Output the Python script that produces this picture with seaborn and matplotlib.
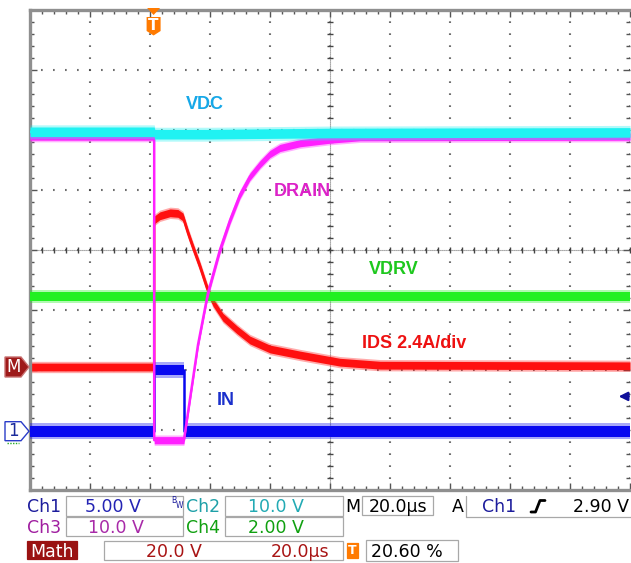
import numpy as np
import matplotlib
matplotlib.use("Agg")
import matplotlib.pyplot as plt
import seaborn as sns
from matplotlib.patches import Rectangle, Polygon
from matplotlib.lines import Line2D

# ---------------- data (time in µs, amplitude in screen divisions) ----------------
vdc_t = [0, 41.4, 41.6, 60.0, 100.0, 200.0]
vdc_v = [1.97, 1.97, 1.93, 1.93, 1.95, 1.96]

drain_t = [0, 41.4, 41.4, 51.3, 56.0, 59.3, 63.3, 66.7, 70.0, 73.3, 76.7, 80.0, 83.3, 90.0, 100.0, 110.0, 200.0]
drain_v = [1.89, 1.89, -3.17, -3.17, -1.58, -0.72, 0.0, 0.5, 0.92, 1.22, 1.43, 1.6, 1.7, 1.78, 1.84, 1.88, 1.89]

ids_t = [0, 41.4, 41.4, 43.3, 46.7, 49.3, 51.0, 52.7, 54.3, 56.7, 59.0, 61.0, 64.3, 69.0, 73.3, 80.0, 90.0, 103.3, 116.7, 200.0]
ids_v = [-1.95, -1.95, 0.5, 0.57, 0.62, 0.61, 0.55, 0.28, 0.05, -0.28, -0.63, -0.87, -1.12, -1.33, -1.5, -1.65, -1.75, -1.87, -1.92, -1.93]

vdrv_t = [0, 200.0]
vdrv_v = [-0.77, -0.77]

in_t = [0, 41.4, 41.4, 51.2, 51.2, 200.0]
in_v = [-3.02, -3.02, -2.0, -2.0, -3.02, -3.02]

trace_labels = ["VDC", "DRAIN", "IDS 2.4A/div", "VDRV", "IN"]
trig_pct = 20.60
trig_level_div = -2.44

row1 = ["Ch1", "5.00 V", "Ch2", "10.0 V", "M", "20.0µs", "A", "Ch1", "2.90 V"]
row2 = ["Ch3", "10.0 V", "Ch4", "2.00 V"]
row3 = ["Math", "20.0 V", "20.0µs", "T", "20.60 %"]

# ---------------- figure ----------------
sns.set_style("white")
plt.rcParams["font.family"] = ["DejaVu Sans"]
W, H = 631, 563
fig = plt.figure(figsize=(W / 100, H / 100), dpi=100)
fig.patch.set_facecolor("white")


def fx(x):
    return x / W


def fy(y):
    return 1 - y / H


ax = fig.add_axes([fx(30), fy(490), 600 / W, 480 / H])
ax.set_xlim(0, 200)
ax.set_ylim(-4, 4)

# graticule
ax.set_xticks(np.arange(0, 201, 20))
ax.set_yticks(np.arange(-4, 4.01, 1))
ax.set_xticks(np.arange(0, 201, 4), minor=True)
ax.set_yticks(np.arange(-4, 4.01, 0.2), minor=True)
ax.grid(which="major", color="#3a3a3a", linestyle=(0.35, (0.6, 5.16)), lw=1.5)
ax.tick_params(which="both", direction="in", top=True, right=True, bottom=True, left=True,
               labelbottom=False, labelleft=False, color="#555555", width=1)
ax.tick_params(which="major", length=5)
ax.tick_params(which="minor", length=3)
for s in ["left", "top", "bottom"]:
    ax.spines[s].set_color("#8f8f8f")
    ax.spines[s].set_linewidth(2.4)
ax.spines["right"].set_visible(False)

ax.axhline(0, color="#555555", lw=0.8, ls=(0, (0.8, 1.0)), zorder=1)
ax.axvline(100, color="#555555", lw=0.8, ls=(0, (0.8, 1.0)), zorder=1)
cx = np.arange(0, 200.01, 4)
cy = np.arange(-4, 4.01, 0.2)
ax.plot(cx, np.zeros_like(cx), ls="none", marker="|", ms=4.5, mew=1, color="#444444", zorder=1)
ax.plot(np.full_like(cy, 100), cy, ls="none", marker="_", ms=4.5, mew=1, color="#444444", zorder=1)

# traces: solid core band + lighter fuzzy fringe to mimic scope noise
traces = [
    (ids_t, ids_v, "#ff1010", 0.065, 2),
    (vdrv_t, vdrv_v, "#22f022", 0.075, 3),
    (in_t, in_v, "#0808f0", 0.09, 4),
    (drain_t, drain_v, "#ff20ff", 0.06, 5),
    (vdc_t, vdc_v, "#20f2f2", 0.08, 6),
]
for t, v, c, h, z in traces:
    va = np.asarray(v)
    ax.fill_between(t, va - 1.45 * h, va + 1.45 * h, color=c, lw=0, alpha=0.35, zorder=z)
    ax.fill_between(t, va - h, va + h, color=c, lw=0, zorder=z)
    sns.lineplot(x=t, y=v, sort=False, estimator=None, color=c, lw=1.8, ax=ax, zorder=z, legend=False)

ax.set_xlabel("")
ax.set_ylabel("")

# labels inside the screen
lab_font = dict(family=["Liberation Sans", "DejaVu Sans"], fontsize=13, fontweight="bold", ha="center", va="center")
lab_pos = [(58.3, 2.42, "#16a8e8"), (90.7, 0.98, "#dc22c8"), (128.0, -1.55, "#ee1111"),
           (121.3, -0.33, "#1ec81e"), (65.3, -2.5, "#1a30cc")]
for txt, (lx, ly, lc) in zip(trace_labels, lab_pos):
    ax.text(lx, ly, txt, color=lc, zorder=10, **lab_font)

# ---------------- markers around the screen ----------------
def poly(pts, **kw):
    p = Polygon([(fx(x), fy(y)) for x, y in pts], closed=True, transform=fig.transFigure, **kw)
    fig.add_artist(p)


# trigger marker (T) at top
tx = 30 + trig_pct / 100 * 600
poly([(tx - 6.5, 8), (tx + 6.5, 8), (tx, 15)], fc="#ff7a00", ec="none")
poly([(tx - 7, 17), (tx + 7, 17), (tx + 7, 31), (tx, 35.5), (tx - 7, 31)], fc="#ff7a00", ec="none")
fig.text(fx(tx), fy(26), "T", color="white", fontsize=11, fontweight="bold", ha="center", va="center")

# M marker (math reference)
ym = 250 - (-1.95) * 60
poly([(5, ym - 10), (21, ym - 10), (29, ym), (21, ym + 10), (5, ym + 10)], fc="#9e1a1a", ec="#c87070", lw=1)
fig.text(fx(13.5), fy(ym), "M", color="white", fontsize=12, ha="center", va="center")

# Ch1 ground marker
y1 = 250 - (-3.02) * 60
poly([(5, y1 - 9.5), (21, y1 - 9.5), (29, y1), (21, y1 + 9.5), (5, y1 + 9.5)], fc="white", ec="#2a3cc8", lw=1)
fig.text(fx(13.5), fy(y1), "1", color="#1a2a9a", fontsize=12, ha="center", va="center")
fig.add_artist(Line2D([fx(7), fx(19)], [fy(y1 + 12), fy(y1 + 12)], color="#22aa22", lw=1,
                      ls=(0, (1, 1)), transform=fig.transFigure))

# trigger level arrow at right edge
ax.annotate("", xy=(195.3, trig_level_div), xytext=(200.5, trig_level_div),
            arrowprops=dict(arrowstyle="-|>", color="#10109a", lw=1.6, mutation_scale=13),
            annotation_clip=False, zorder=12)

# ---------------- status area ----------------
def box(x0, y0, x1, y1, fc="white", ec="#a8a8a8", lw=0.9):
    fig.add_artist(Rectangle((fx(x0), fy(y1)), (x1 - x0) / W, (y1 - y0) / H, transform=fig.transFigure,
                             fc=fc, ec=ec, lw=lw))


sf = dict(family=["DejaVu Sans"], fontsize=12.5, va="baseline")

box(66, 496, 183, 516)
box(225, 496, 343, 516)
box(362, 496, 433, 515)
fig.add_artist(Line2D([fx(466), fx(466), fx(631)], [fy(496), fy(517), fy(517)], color="#a8a8a8", lw=0.9,
                      transform=fig.transFigure))
box(66, 517, 183, 536)
box(225, 517, 343, 536)
box(27, 541, 77, 559, fc="#9a1212", ec="#9a1212")
box(104, 541, 343, 560)
box(366, 540, 458, 561)
box(347, 543, 358, 558, fc="#ff7a00", ec="#ff7a00")

b1 = 512
fig.text(fx(27), fy(b1), row1[0], color="#1c1c9c", ha="left", **sf)
fig.text(fx(113), fy(b1), row1[1], color="#2424b4", ha="center", **sf)
fig.text(fx(174), fy(503), "B", color="#1c1c9c", ha="center", family=["DejaVu Sans"], fontsize=5.5, va="baseline")
fig.text(fx(180), fy(508), "W", color="#1c1c9c", ha="center", family=["DejaVu Sans"], fontsize=5.5, va="baseline")
fig.text(fx(186), fy(b1), row1[2], color="#1ea0a8", ha="left", **sf)
fig.text(fx(276), fy(b1), row1[3], color="#22aab4", ha="center", **sf)
fig.text(fx(345), fy(b1), row1[4], color="black", ha="left", **sf)
fig.text(fx(398), fy(b1), row1[5], color="black", ha="center", **sf)
fig.text(fx(452), fy(b1), row1[6], color="black", ha="left", **sf)
fig.text(fx(482), fy(b1), row1[7], color="#1c1c9c", ha="left", **sf)
fig.add_artist(Line2D([fx(531), fx(535.5), fx(540), fx(545)], [fy(512), fy(512), fy(500.5), fy(500.5)],
                      color="black", lw=2.0, transform=fig.transFigure))
fig.text(fx(573), fy(b1), row1[8], color="black", ha="left", **sf)

b2 = 533
fig.text(fx(27), fy(b2), row2[0], color="#a01ea0", ha="left", **sf)
fig.text(fx(116), fy(b2), row2[1], color="#a82aa8", ha="center", **sf)
fig.text(fx(186), fy(b2), row2[2], color="#10a010", ha="left", **sf)
fig.text(fx(276), fy(b2), row2[3], color="#10a010", ha="center", **sf)

b3 = 557
fig.text(fx(52), fy(b3), row3[0], color="white", ha="center", **sf)
fig.text(fx(174), fy(b3), row3[1], color="#a81414", ha="center", **sf)
fig.text(fx(300), fy(b3), row3[2], color="#a81414", ha="center", **sf)
fig.text(fx(352.5), fy(550.5), row3[3], color="white", ha="center", va="center", fontsize=9, fontweight="bold")
fig.text(fx(407), fy(b3), row3[4], color="black", ha="center", **sf)

fig.savefig("out.png", dpi=100)
